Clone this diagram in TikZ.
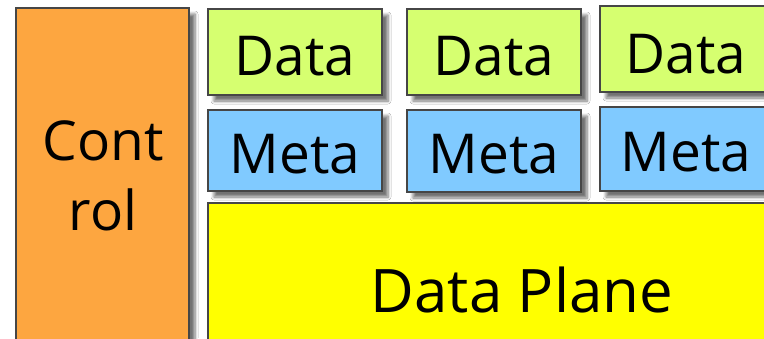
\documentclass[tikz,border=0pt]{standalone}
\usepackage{fontspec}
\setmainfont{Open Sans}
\usetikzlibrary{shadows.blur}
\definecolor{ctrlorange}{RGB}{253,166,64}
\definecolor{datagreen}{RGB}{214,255,112}
\definecolor{metablue}{RGB}{128,202,255}
\definecolor{planeyellow}{RGB}{255,255,0}
\definecolor{edgegray}{RGB}{70,70,70}
\tikzset{
  blk/.style={draw=edgegray, line width=1.3pt, inner sep=0pt, outer sep=0pt,
    blur shadow={shadow xshift=6pt, shadow yshift=-6pt, shadow blur steps=6, shadow blur radius=3pt, shadow opacity=55}},
  databox/.style={blk, fill=datagreen},
  metabox/.style={blk, fill=metablue},
  cellfont/.style={font=\fontsize{55}{60}\selectfont, anchor=base},
}
\begin{document}
\begin{tikzpicture}[x=1pt,y=-1pt]
\useasboundingbox (0,0) rectangle (764,338);
\begin{scope}
\clip (0,0) rectangle (764,338);
\fill[white] (0,0) rectangle (764,338);
% control column
\node[blk, fill=ctrlorange, minimum width=173pt, minimum height=360pt, anchor=north west] (ctrl) at (16,8) {};
\node[font=\fontsize{55}{70}\selectfont, align=center] (ctrltext) at (103,176) {Cont\\rol};
% data plane
\node[blk, fill=planeyellow, minimum width=600pt, minimum height=180pt, anchor=north west] (plane) at (208,203) {};
\node[font=\fontsize{60}{60}\selectfont, anchor=base] (planetext) at (522,312) {Data Plane};
% data cells
\node[databox, minimum width=174pt, minimum height=86pt, anchor=north west] (d1) at (208,9) {};
\node[databox, minimum width=174pt, minimum height=86pt, anchor=north west] (d2) at (407,9) {};
\node[databox, minimum width=174pt, minimum height=86pt, anchor=north west] (d3) at (600,6) {};
\node[cellfont] (d1t) at (295,75) {Data};
\node[cellfont] (d2t) at (494,75) {Data};
\node[cellfont] (d3t) at (686,73) {Data};
% meta cells
\node[metabox, minimum width=174pt, minimum height=81pt, anchor=north west] (m1) at (208,110) {};
\node[metabox, minimum width=174pt, minimum height=82pt, anchor=north west] (m2) at (407,110) {};
\node[metabox, minimum width=174pt, minimum height=84pt, anchor=north west] (m3) at (600,107) {};
\node[cellfont] (m1t) at (295,173) {Meta};
\node[cellfont] (m2t) at (494,173) {Meta};
\node[cellfont] (m3t) at (686,171) {Meta};
\end{scope}
\end{tikzpicture}
\end{document}
